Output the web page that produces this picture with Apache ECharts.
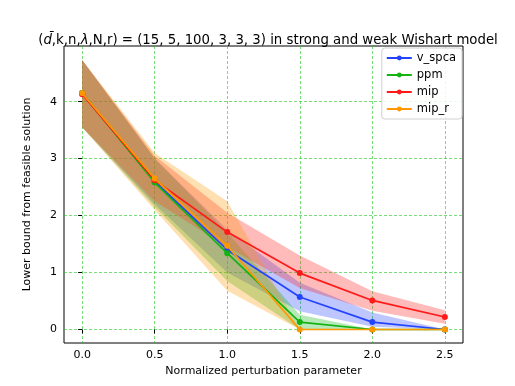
<!DOCTYPE html>
<html>
<head>
<meta charset="utf-8">
<script src="https://cdn.jsdelivr.net/npm/echarts@6/dist/echarts.min.js"></script>
<style>
  html, body { margin: 0; padding: 0; background: #fff; }
  #chart { width: 515px; height: 386px; }
</style>
</head>
<body>
<div id="chart"></div>
<script>
// x positions (normalized perturbation parameter)
var xVals = [0, 0.5, 1.0, 1.5, 2.0, 2.5];
var xTicks = [0, 0.5, 1.0, 1.5, 2.0, 2.5];
var yTicks = [0, 1, 2, 3, 4];

// mean values and band bounds
var vspcaMean = [4.15, 2.60, 1.40, 0.57, 0.13, 0.0];
var vspcaLow  = [3.55, 2.20, 1.00, 0.32, 0.05, 0.0];
var vspcaHigh = [4.73, 3.00, 1.75, 0.82, 0.30, 0.0];

var ppmMean = [4.15, 2.58, 1.34, 0.13, 0.0, 0.0];
var ppmLow  = [3.55, 2.15, 0.85, 0.0, 0.0, 0.0];
var ppmHigh = [4.73, 3.00, 1.70, 0.26, 0.0, 0.0];

var mipMean = [4.13, 2.62, 1.71, 0.99, 0.51, 0.22];
var mipLow  = [3.55, 2.25, 1.45, 0.73, 0.33, 0.10];
var mipHigh = [4.73, 3.05, 2.05, 1.30, 0.67, 0.34];

var miprMean = [4.15, 2.65, 1.47, 0.0, 0.0, 0.0];
var miprLow  = [3.55, 2.10, 0.68, 0.0, 0.0, 0.0];
var miprHigh = [4.73, 3.10, 2.25, 0.0, 0.0, 0.0];

var names = ['v_spca', 'ppm', 'mip', 'mip_r'];
var colors = ['#2343ff', '#12b312', '#ff1a1a', '#ff9800'];
var means = [vspcaMean, ppmMean, mipMean, miprMean];
var lows = [vspcaLow, ppmLow, mipLow, miprLow];
var highs = [vspcaHigh, ppmHigh, mipHigh, miprHigh];

function pairs(ys) {
    var out = [];
    for (var i = 0; i < xVals.length; i++) out.push([xVals[i], ys[i]]);
    return out;
}

// shaded band drawn as one polygon through the axes' coordinate system
function bandSeries(k) {
    var low = lows[k], high = highs[k];
    var rows = [];
    for (var i = 0; i < xVals.length; i++) rows.push([xVals[i], low[i], high[i]]);
    return {
        type: 'custom',
        name: names[k] + '_band',
        silent: true,
        z: 1,
        encode: { x: 0, y: [1, 2] },
        data: rows,
        renderItem: function (params, api) {
            if (params.dataIndex !== 0) return;
            var pts = [];
            for (var i = 0; i < xVals.length; i++) pts.push(api.coord([xVals[i], high[i]]));
            for (var j = xVals.length - 1; j >= 0; j--) pts.push(api.coord([xVals[j], low[j]]));
            return {
                type: 'polygon',
                shape: { points: pts },
                style: { fill: colors[k], opacity: 0.3 }
            };
        }
    };
}

function lineSeries(k) {
    return {
        type: 'line',
        name: names[k],
        data: pairs(means[k]),
        z: 3 + k,
        symbol: 'circle',
        symbolSize: 6,
        showSymbol: true,
        lineStyle: { color: colors[k], width: 1.7 },
        itemStyle: { color: colors[k] },
        emphasis: { disabled: true },
        animation: false
    };
}

var series = [];
for (var k = 0; k < 4; k++) series.push(bandSeries(k));
for (var k2 = 0; k2 < 4; k2++) series.push(lineSeries(k2));

var gridLine = { show: true, lineStyle: { color: 'rgba(30,200,30,0.75)', type: [3, 2], width: 0.8 } };

var option = {
    animation: false,
    backgroundColor: '#fff',
    textStyle: { fontFamily: 'DejaVu Sans' },
    title: {
        text: '({a|d̄},k,n,{a|λ},N,r) = (15, 5, 100, 3, 3, 3) in strong and weak Wishart model',
        left: 263,
        textAlign: 'center',
        top: 29,
        textStyle: {
            fontFamily: 'DejaVu Sans', fontSize: 13.3, fontWeight: 'normal', color: '#000',
            rich: { a: { fontFamily: 'DejaVu Sans', fontStyle: 'italic', fontSize: 13.3 } }
        }
    },
    legend: {
        orient: 'vertical',
        right: 53,
        top: 48,
        padding: [4, 6, 4, 4],
        itemGap: 5,
        itemWidth: 25,
        itemHeight: 6,
        backgroundColor: 'rgba(255,255,255,0.85)',
        borderColor: '#d0d0d0',
        borderWidth: 1,
        borderRadius: 3,
        data: names,
        textStyle: { fontFamily: 'DejaVu Sans', fontSize: 11.5, color: '#000', padding: [0, 0, 0, 0] }
    },
    grid: {
        left: 64, top: 46, right: 52, bottom: 43,
        show: true, borderColor: '#000', borderWidth: 1, backgroundColor: 'transparent'
    },
    xAxis: {
        type: 'value',
        min: -0.125,
        max: 2.625,
        name: 'Normalized perturbation parameter',
        nameLocation: 'middle',
        nameGap: 22,
        nameTextStyle: { fontFamily: 'DejaVu Sans', fontSize: 11, color: '#000' },
        axisLine: { show: false },
        axisTick: { show: true, inside: false, length: 4, customValues: xTicks, lineStyle: { color: '#000' } },
        axisLabel: {
            customValues: xTicks, margin: 7, fontSize: 11, color: '#000', fontFamily: 'DejaVu Sans',
            formatter: function (v) { return v.toFixed(1); }
        },
        splitLine: gridLine
    },
    yAxis: {
        type: 'value',
        min: -0.237,
        max: 4.977,
        name: 'Lower bound from feasible solution',
        nameLocation: 'middle',
        nameGap: 31,
        nameRotate: 90,
        nameTextStyle: { fontFamily: 'DejaVu Sans', fontSize: 11, color: '#000' },
        axisLine: { show: false },
        axisTick: { show: true, inside: false, length: 4, customValues: yTicks, lineStyle: { color: '#000' } },
        axisLabel: { customValues: yTicks, margin: 7, fontSize: 11, color: '#000', fontFamily: 'DejaVu Sans' },
        splitLine: gridLine
    },
    series: series
};

echarts.init(document.getElementById('chart')).setOption(option);
</script>
</body>
</html>
